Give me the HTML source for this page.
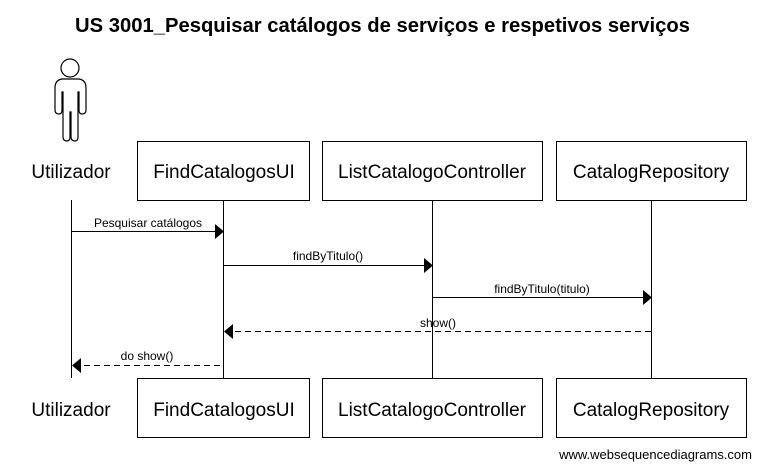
<!DOCTYPE html>
<html><head><style>body{margin:0;background:#fff}</style></head><body>
<svg width="762" height="470" xmlns="http://www.w3.org/2000/svg" font-family="Liberation Sans, Arial, sans-serif">
<rect width="762" height="470" fill="#fff"/>
<text x="75" y="32" font-size="20" font-weight="bold" textLength="615" lengthAdjust="spacingAndGlyphs">US 3001_Pesquisar catálogos de serviços e respetivos serviços</text>
<!-- actor -->
<g fill="none" stroke="#000" stroke-width="1.2">
<circle cx="70" cy="68" r="9"/>
<path d="M62,79 Q55,80 55,88 L55,110 Q55,114 59,114 Q62,114 62,110 L62,92 L63,92 L63,137 Q63,141 67,141 Q70,141 70,137 L70,112 L71,112 L71,137 Q71,141 75,141 Q78,141 78,137 L78,92 L79,92 L79,110 Q79,114 82,114 Q86,114 86,110 L86,88 Q86,80 79,79 Z"/>
</g>
<g font-size="19" text-anchor="middle">
<text x="71" y="178">Utilizador</text>
<text x="71" y="416">Utilizador</text>
</g>
<g fill="#fff" stroke="#000">
<rect x="137.5" y="141.5" width="172" height="59"/>
<rect x="322.5" y="141.5" width="220" height="59"/>
<rect x="556.5" y="141.5" width="190" height="59"/>
<rect x="137.5" y="378.5" width="172" height="59"/>
<rect x="322.5" y="378.5" width="220" height="59"/>
<rect x="556.5" y="378.5" width="190" height="59"/>
</g>
<g font-size="19" text-anchor="middle">
<text x="224" y="178">FindCatalogosUI</text>
<text x="432" y="178">ListCatalogoController</text>
<text x="651" y="178">CatalogRepository</text>
<text x="224" y="416">FindCatalogosUI</text>
<text x="432" y="416">ListCatalogoController</text>
<text x="651" y="416">CatalogRepository</text>
</g>
<g stroke="#000" stroke-width="1">
<line x1="71.5" y1="200" x2="71.5" y2="378"/>
<line x1="223.5" y1="200" x2="223.5" y2="378"/>
<line x1="432.5" y1="200" x2="432.5" y2="378"/>
<line x1="651.5" y1="200" x2="651.5" y2="378"/>
<line x1="71" y1="231.5" x2="215" y2="231.5"/>
<line x1="223" y1="265.5" x2="424" y2="265.5"/>
<line x1="432" y1="297.5" x2="643" y2="297.5"/>
<line x1="651" y1="331.5" x2="232" y2="331.5" stroke-dasharray="6,4"/>
<line x1="220" y1="365.5" x2="80" y2="365.5" stroke-dasharray="6,4"/>
</g>
<g fill="#000">
<polygon points="215,224 224,231.5 215,239"/>
<polygon points="424,258 433,265.5 424,273"/>
<polygon points="643,290 652,297.5 643,305"/>
<polygon points="233,324 224,331.5 233,339"/>
<polygon points="81,358 72,365.5 81,373"/>
</g>
<g font-size="12" text-anchor="middle">
<text x="148" y="227">Pesquisar catálogos</text>
<text x="328" y="260">findByTitulo()</text>
<text x="542" y="293">findByTitulo(titulo)</text>
<text x="438" y="327">show()</text>
<text x="147" y="360">do show()</text>
</g>
<text x="752" y="459" font-size="13" text-anchor="end">www.websequencediagrams.com</text>
</svg>
</body></html>
